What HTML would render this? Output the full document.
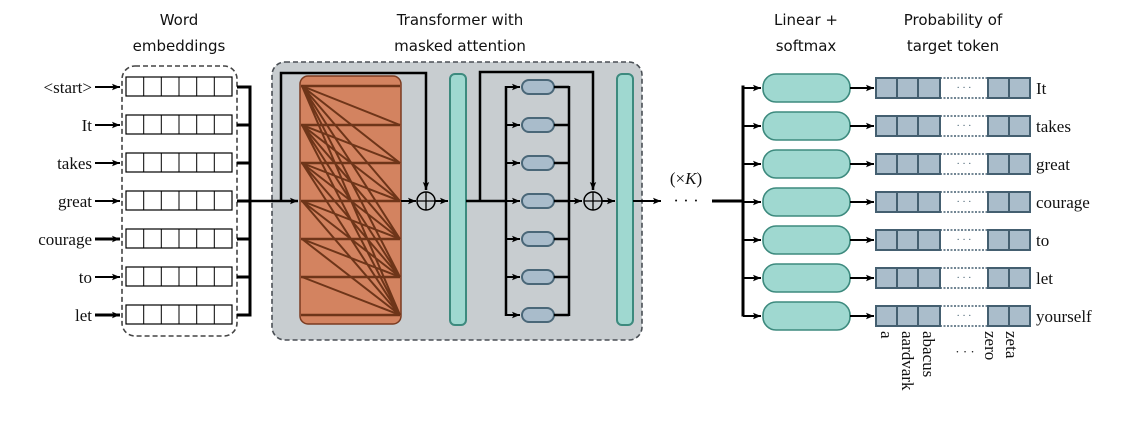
<!DOCTYPE html>
<html><head><meta charset="utf-8">
<style>
html,body{margin:0;padding:0;background:#fff;}
svg{display:block;}
.t{font-family:"DejaVu Sans","Liberation Sans",sans-serif;font-size:15px;fill:#111;}
.s{font-family:"Liberation Serif",serif;font-size:17px;fill:#111;}
</style></head><body>
<svg width="1123" height="422" viewBox="0 0 1123 422" xmlns="http://www.w3.org/2000/svg">
<defs>
<marker id="ah" viewBox="0 0 10 10" refX="10" refY="5" markerWidth="10" markerHeight="8" markerUnits="userSpaceOnUse" orient="auto">
<path d="M0,1 L10,5 L0,9 L2,5 z" fill="#000"/></marker>
<g id="emb">
<rect x="126" y="-10" width="106" height="19" fill="#fff" stroke="#000" stroke-width="1.2"/>
<path d="M143.7 -10V9M161.3 -10V9M179 -10V9M196.7 -10V9M214.3 -10V9" stroke="#000" stroke-width="1"/>
<path d="M237 0H250" stroke="#000" stroke-width="3"/>
</g>
<g id="pill"><rect x="522" y="-7" width="32" height="14" rx="7" fill="#a9bccb" stroke="#4a6778" stroke-width="2"/>
<path d="M506 0H520" stroke="#000" stroke-width="2" marker-end="url(#ah)"/>
<path d="M554 0H569" stroke="#000" stroke-width="2.5"/></g>
<g id="out">
<path d="M743 0H761" stroke="#000" stroke-width="2" marker-end="url(#ah)"/>
<rect x="763" y="-14" width="87" height="28" rx="13" fill="#9fd8d0" stroke="#3d8a7e" stroke-width="1.6"/>
<path d="M850 0H874" stroke="#000" stroke-width="2" marker-end="url(#ah)"/>
<rect x="876" y="-10" width="64" height="20" fill="#aabdcb" stroke="#445f70" stroke-width="2"/>
<path d="M897 -10V10M918 -10V10" stroke="#445f70" stroke-width="2"/>
<rect x="988" y="-10" width="42" height="20" fill="#aabdcb" stroke="#445f70" stroke-width="2"/>
<path d="M1009 -10V10" stroke="#445f70" stroke-width="2"/>
<path d="M940 -10H988M940 10H988" stroke="#445f70" stroke-width="1.5" stroke-dasharray="2,1.5"/>
<text x="964" y="3" font-family="Liberation Serif,serif" font-size="10" text-anchor="middle" fill="#445f70">· · ·</text>
</g>
</defs>

<text x="179" y="25" class="t" text-anchor="middle">Word</text>
<text x="179" y="51" class="t" text-anchor="middle">embeddings</text>
<text x="460" y="25" class="t" text-anchor="middle">Transformer with</text>
<text x="460" y="51" class="t" text-anchor="middle">masked attention</text>
<text x="806" y="25" class="t" text-anchor="middle">Linear +</text>
<text x="806" y="51" class="t" text-anchor="middle">softmax</text>
<text x="953" y="25" class="t" text-anchor="middle">Probability of</text>
<text x="953" y="51" class="t" text-anchor="middle">target token</text>

<rect x="122" y="66" width="115" height="270" rx="13" fill="#fff" stroke="#444" stroke-width="1.6" stroke-dasharray="5,3"/>
<g class="s" text-anchor="end">
<text x="92" y="93">&lt;start&gt;</text>
<text x="92" y="131">It</text>
<text x="92" y="169">takes</text>
<text x="92" y="207">great</text>
<text x="92" y="245">courage</text>
<text x="92" y="283">to</text>
<text x="92" y="321">let</text>
</g>
<g stroke="#000" stroke-width="2" marker-end="url(#ah)">
<path d="M95 87H120"/><path d="M95 125H120"/><path d="M95 163H120"/><path d="M95 201H120"/>
<path d="M95 239H120" stroke-width="3"/><path d="M95 277H120"/><path d="M95 315H120" stroke-width="3"/>
</g>
<use href="#emb" y="87"/><use href="#emb" y="125"/><use href="#emb" y="163"/><use href="#emb" y="201"/>
<use href="#emb" y="239"/><use href="#emb" y="277"/><use href="#emb" y="315"/>
<path d="M250 85.5V316.5" stroke="#000" stroke-width="3"/>

<rect x="272" y="62" width="370" height="278" rx="13" fill="#c8cdd0" stroke="#4a4f55" stroke-width="1.6" stroke-dasharray="5,3"/>
<path d="M250 201H298" stroke="#000" stroke-width="2.5" marker-end="url(#ah)"/>
<path d="M281 201V73H426V190" fill="none" stroke="#000" stroke-width="2.5" marker-end="url(#ah)"/>
<rect x="300" y="76" width="101" height="248" rx="8" fill="#d38360" stroke="#7a3b20" stroke-width="1.5"/>
<path stroke="#6e3519" stroke-width="2.5" d="M301 86H400M301 125H400M301 163H400M301 201H400M301 239H400M301 277H400M301 315H400"/>
<path stroke="#6e3519" stroke-width="2" fill="none" d="
M302 86L400 125M302 86L400 163M302 86L400 201M302 86L400 239M302 86L400 277M302 86L400 315
M302 125L400 163M302 125L400 201M302 125L400 239M302 125L400 277M302 125L400 315
M302 163L400 201M302 163L400 239M302 163L400 277M302 163L400 315
M302 201L400 239M302 201L400 277M302 201L400 315
M302 239L400 277M302 239L400 315
M302 277L400 315"/>
<path d="M401 201H416" stroke="#000" stroke-width="2" marker-end="url(#ah)"/>
<circle cx="426" cy="201" r="9" fill="none" stroke="#000" stroke-width="1.5"/>
<path d="M417 201H435M426 192V210" stroke="#000" stroke-width="1.3"/>
<path d="M435 201H448" stroke="#000" stroke-width="2" marker-end="url(#ah)"/>
<rect x="450" y="74" width="16" height="251" rx="5" fill="#9fd8d0" stroke="#3d8a7e" stroke-width="2"/>

<path d="M466 201H506" stroke="#000" stroke-width="2.5"/>
<path d="M480 201V72H593V190" fill="none" stroke="#000" stroke-width="2.5" marker-end="url(#ah)"/>
<path d="M506 86V316M569 86V316" stroke="#000" stroke-width="2.5"/>
<use href="#pill" y="87"/><use href="#pill" y="125"/><use href="#pill" y="163"/><use href="#pill" y="201"/>
<use href="#pill" y="239"/><use href="#pill" y="277"/><use href="#pill" y="315"/>
<path d="M569 201H582" stroke="#000" stroke-width="2" marker-end="url(#ah)"/>
<circle cx="593" cy="201" r="9" fill="none" stroke="#000" stroke-width="1.5"/>
<path d="M584 201H602M593 192V210" stroke="#000" stroke-width="1.3"/>
<path d="M602 201H615" stroke="#000" stroke-width="2" marker-end="url(#ah)"/>
<rect x="617" y="74" width="16" height="251" rx="5" fill="#9fd8d0" stroke="#3d8a7e" stroke-width="2"/>

<path d="M633 201H661" stroke="#000" stroke-width="2" marker-end="url(#ah)"/>
<text x="686" y="206" class="s" text-anchor="middle" font-size="16">·  ·  ·</text>
<text x="686" y="184" class="s" text-anchor="middle" font-size="18">(×<tspan font-style="italic">K</tspan>)</text>
<path d="M712 201H743" stroke="#000" stroke-width="3"/>
<path d="M743 85.5V316.5" stroke="#000" stroke-width="3"/>

<use href="#out" y="88"/><use href="#out" y="126"/><use href="#out" y="164"/><use href="#out" y="202"/>
<use href="#out" y="240"/><use href="#out" y="278"/><use href="#out" y="316"/>
<g class="s">
<text x="1036" y="94">It</text>
<text x="1036" y="132">takes</text>
<text x="1036" y="170">great</text>
<text x="1036" y="208">courage</text>
<text x="1036" y="246">to</text>
<text x="1036" y="284">let</text>
<text x="1036" y="322">yourself</text>
</g>
<g class="s" font-size="16">
<text transform="translate(881,331) rotate(90)">a</text>
<text transform="translate(902,331) rotate(90)">aardvark</text>
<text transform="translate(923,331) rotate(90)">abacus</text>
<text transform="translate(985,331) rotate(90)">zero</text>
<text transform="translate(1006,331) rotate(90)">zeta</text>
<text x="965" y="356" text-anchor="middle" font-size="13">· · ·</text>
</g>
</svg>
</body></html>
